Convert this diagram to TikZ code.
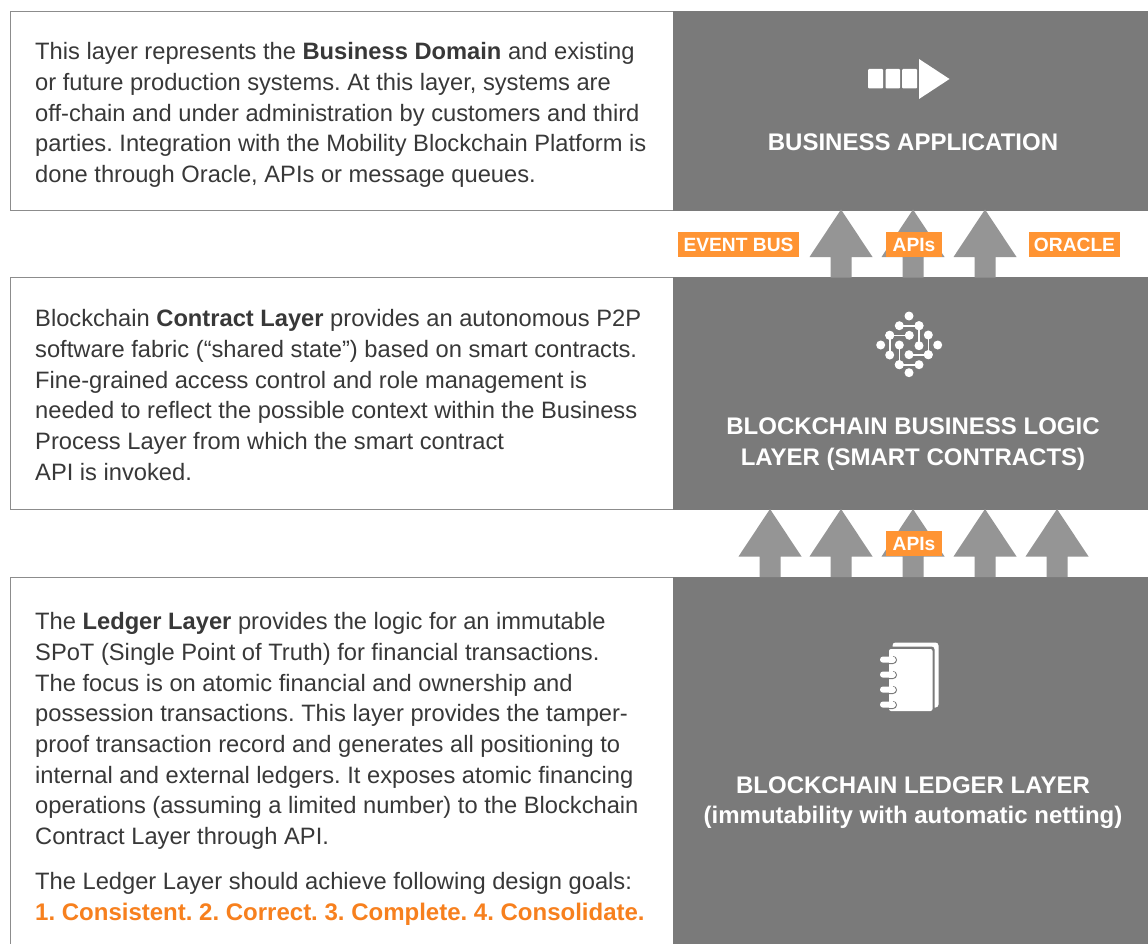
\documentclass[tikz,border=0pt]{standalone}
\usepackage{fontspec}
\setmainfont{Liberation Sans}
\definecolor{panel}{HTML}{7A7A7A}
\definecolor{arrowgray}{HTML}{959595}
\definecolor{boxline}{HTML}{8C8C8C}
\definecolor{tagorange}{HTML}{FF9433}
\definecolor{goalorange}{HTML}{F7801E}
\definecolor{bodytext}{HTML}{383838}
\tikzset{
  x=1pt,y=-1pt,
  textbox/.style={draw=boxline,line width=1pt,fill=white},
  panelbox/.style={fill=panel},
  bodynode/.style={anchor=north west,align=left,inner sep=0pt,text=bodytext,font=\fontsize{23.7}{30.7}\selectfont\frenchspacing},
  headnode/.style={align=center,inner sep=0pt,text=white,font=\fontsize{24}{30.5}\selectfont\bfseries},
  tagnode/.style={fill=tagorange,text=white,inner sep=0pt,minimum height=25pt,font=\fontsize{19.2}{20}\selectfont\bfseries},
  uparrow/.style={fill=arrowgray},
  iconfill/.style={fill=white},
  iconline/.style={draw=white,line width=1.6pt}
}
\newcommand{\bigarrow}[2]{\fill[uparrow] (#1,#2) -- (#1+31.5,#2+47.5) -- (#1+10.5,#2+47.5) -- (#1+10.5,#2+68) -- (#1-10.5,#2+68) -- (#1-10.5,#2+47.5) -- (#1-31.5,#2+47.5) -- cycle;}
\newcommand{\icondot}[2]{\fill[iconfill] (#1,#2) circle (4.5pt);}
\newcommand{\iconlink}[4]{\fill[iconfill] (#1,#2) circle (4.5pt) (#3,#4) circle (4.5pt); \draw[iconline] (#1,#2) -- (#3,#4);}
\newcommand{\ringpill}[1]{%
  \draw[panel,line width=1pt] (889,#1+7) -- (893,#1+7) arc[start angle=-90,end angle=90,radius=3.5pt];
  \fill[white,rounded corners=3pt] (880,#1) rectangle (895.5,#1+6.2);}
\begin{document}
\begin{tikzpicture}
\useasboundingbox (0,0) rectangle (1148,944);
\fill[white] (0,0) rectangle (1148,944);
% left boxes
\draw[textbox] (10,12) rectangle (673,211);
\draw[textbox] (10,277.5) rectangle (673,509);
\draw[boxline,line width=1pt] (10,950) -- (10,577.5) -- (673,577.5);
% right panels
\fill[panelbox] (673,11.5) rectangle (1148,211);
\fill[panelbox] (673,277) rectangle (1148,509.5);
\fill[panelbox] (673,577) rectangle (1148,944);
% arrows
\bigarrow{841}{209.5}
\bigarrow{913}{209.5}
\bigarrow{985}{209.5}
\bigarrow{770}{509}
\bigarrow{841}{509}
\bigarrow{913}{509}
\bigarrow{985}{509}
\bigarrow{1057}{509}
% tags
\node[tagnode,minimum width=121pt] (tagbus) at (738.5,244.5) {EVENT BUS};
\node[tagnode,minimum width=56pt] (tagapi) at (914,244.5) {APIs};
\node[tagnode,minimum width=91pt] (tagoracle) at (1074.5,244.5) {ORACLE};
\node[tagnode,minimum width=56pt] (taglower) at (914,543.5) {APIs};
% body text
\node[bodynode] (t1) at (35,42.3) {This layer represents the \textbf{Business Domain} and existing\\
or future production systems. At this layer, systems are\\
off-chain and under administration by customers and third\\
parties. Integration with the Mobility Blockchain Platform is\\
done through Oracle, APIs or message queues.};
\node[bodynode] (t2) at (35,309.3) {Blockchain \textbf{Contract Layer} provides an autonomous P2P\\
software fabric (“shared state”) based on smart contracts.\\
Fine-grained access control and role management is\\
needed to reflect the possible context within the Business\\
Process Layer from which the smart contract\\
API is invoked.};
\node[bodynode] (t3) at (35,612.3) {The \textbf{Ledger Layer} provides the logic for an immutable\\
SPoT (Single Point of Truth) for financial transactions.\\
The focus is on atomic financial and ownership and\\
possession transactions. This layer provides the tamper-\\
proof transaction record and generates all positioning to\\
internal and external ledgers. It exposes atomic financing\\
operations (assuming a limited number) to the Blockchain\\
Contract Layer through API.};
\node[bodynode] (t4) at (35,872.3) {The Ledger Layer should achieve following design goals:\\
\textcolor{goalorange}{\fontsize{24}{30.7}\selectfont\textbf{1. Consistent. 2. Correct. 3. Complete. 4. Consolidate.}}};
% headings
\node[headnode] (h1) at (913,142) {BUSINESS APPLICATION};
\node[headnode] (h2) at (913,444) {BLOCKCHAIN BUSINESS LOGIC\\LAYER (SMART CONTRACTS)};
\node[headnode] (h3) at (913,802.5) {BLOCKCHAIN LEDGER LAYER\\(immutability with automatic netting)};
% icon 1
\fill[iconfill,rounded corners=1pt] (868,69) rectangle (883,88.5);
\fill[iconfill,rounded corners=1pt] (885.5,69) rectangle (900,88.5);
\fill[iconfill,rounded corners=1pt] (902,69) rectangle (917,88.5);
\fill[iconfill] (919,59) -- (949.5,79) -- (919,99) -- cycle;
% icon 2
\icondot{909}{316}
\iconlink{899.3}{325.7}{919}{325.7}
\iconlink{919}{325.7}{919}{345.7}
\iconlink{889.7}{335.3}{909.3}{335.3}
\iconlink{889.7}{335.3}{889.7}{355}
\icondot{880.7}{345}
\iconlink{899.3}{345}{899.3}{364.7}
\iconlink{899.3}{364.7}{919}{364.7}
\iconlink{909}{354.7}{928.3}{354.7}
\iconlink{928.3}{354.7}{928.3}{335}
\icondot{937.7}{345}
\icondot{909}{372.7}
% icon 3
\fill[iconfill,rounded corners=3pt] (892.5,642.5) rectangle (938.5,707.5);
\fill[panel,rounded corners=3pt] (886,646.5) rectangle (934.5,712.5);
\fill[iconfill,rounded corners=2pt] (889,649) rectangle (932.5,711);
\ringpill{656.5}
\ringpill{671.5}
\ringpill{686.5}
\ringpill{701.5}
\end{tikzpicture}
\end{document}
